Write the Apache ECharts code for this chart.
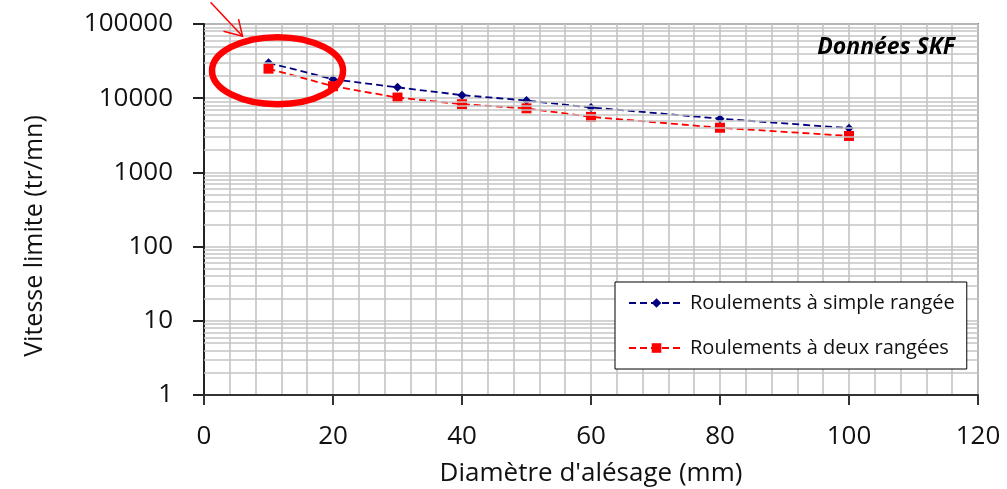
<!DOCTYPE html>
<html>
<head>
<meta charset="utf-8">
<script src="https://cdn.jsdelivr.net/npm/echarts@6/dist/echarts.min.js"></script>
<style>
html,body{margin:0;padding:0;background:#fff;}
#c{width:1007px;height:489px;}
</style>
</head>
<body>
<div id="c"></div>
<script>
// ---- data ----
const diameters = [10, 20, 30, 40, 50, 60, 80, 100];
const simpleRow = [30000, 18000, 14000, 11000, 9300, 7500, 5300, 3950];
const doubleRow = [25000, 14500, 10200, 8300, 7300, 5600, 4000, 3100];
const seriesNames = ['Roulements à simple rangée', 'Roulements à deux rangées'];
const xTicks = [0, 20, 40, 60, 80, 100, 120];
const yTicks = [1, 10, 100, 1000, 10000, 100000];
const xTitle = "Diamètre d'alésage (mm)";
const yTitle = 'Vitesse limite (tr/mn)';
const sourceNote = 'Données SKF';
// annotation anchor (data coords of the circled region)
const highlightCenter = [11.4, 23500];

// minor log grid values 2..9 per decade
const minorLog = [];
yTicks.slice(0, -1).forEach(d => { for (let k = 2; k <= 9; k++) minorLog.push(d * k); });

const FONT = '"Open Sans", Lato, sans-serif';
const chart = echarts.init(document.getElementById('c'), null, {renderer: 'canvas'});

const option = {
  animation: false,
  backgroundColor: '#fff',
  title: {
    text: sourceNote, right: 52, top: 36, padding: 0,
    textStyle: {fontFamily: FONT, fontSize: 23, fontWeight: 'bold', fontStyle: 'italic', color: '#000'}
  },
  grid: {
    left: 204, top: 24, right: 29, bottom: 94,
    outerBoundsMode: 'none', containLabel: false,
    show: true, borderColor: '#8a8a8a', borderWidth: 2, backgroundColor: '#fff'
  },
  legend: {
    data: seriesNames,
    orient: 'vertical',
    left: 615, top: 282,
    backgroundColor: '#fff',
    borderColor: '#000', borderWidth: 1, borderRadius: 0,
    padding: [11, 12, 11, 13],
    itemWidth: 55, itemHeight: 12, itemGap: 25,
    textStyle: {fontFamily: FONT, fontSize: 20, color: '#111', lineHeight: 20, padding: [0, 0, 0, 1]},
    z: 20
  },
  xAxis: {
    type: 'value',
    min: xTicks[0], max: xTicks[xTicks.length - 1], interval: xTicks[1] - xTicks[0],
    name: xTitle, nameLocation: 'middle', nameGap: 66,
    nameTextStyle: {fontFamily: FONT, fontSize: 26, color: '#111'},
    axisLine: {show: true, onZero: false, lineStyle: {color: '#333', width: 2}},
    axisTick: {show: true, length: 10, lineStyle: {color: '#333', width: 2}},
    axisLabel: {fontFamily: FONT, fontSize: 26, color: '#111', margin: 29},
    splitLine: {show: true, lineStyle: {color: '#c4c4c4', width: 1.6}},
    minorTick: {show: false, splitNumber: 5},
    minorSplitLine: {show: true, lineStyle: {color: '#c4c4c4', width: 1.6}}
  },
  yAxis: {
    type: 'log', logBase: 10,
    min: yTicks[0], max: yTicks[yTicks.length - 1],
    axisLine: {show: true, lineStyle: {color: '#222', width: 2}},
    axisTick: {show: true, length: 11, lineStyle: {color: '#222', width: 2}},
    axisLabel: {fontFamily: FONT, fontSize: 26, color: '#111', margin: 31, padding: [8, 0, 0, 0],
      formatter: v => String(Math.round(v))},
    splitLine: {show: true, lineStyle: {color: '#c4c4c4', width: 1.6}}
  },
  series: [
    {
      name: 'grid-minor', type: 'line', data: [], silent: true, z: 1,
      markLine: {
        silent: true, symbol: 'none', label: {show: false}, animation: false,
        lineStyle: {color: '#c4c4c4', width: 1.6, type: 'solid'},
        emphasis: {disabled: true},
        data: minorLog.map(v => ({yAxis: v}))
      }
    },
    {
      name: seriesNames[0], type: 'line', z: 3,
      data: diameters.map((d, i) => [d, simpleRow[i]]),
      symbol: 'diamond', symbolSize: 9,
      itemStyle: {color: '#000080'},
      lineStyle: {color: '#000080', width: 1.8, type: [7, 4]}
    },
    {
      name: seriesNames[1], type: 'line', z: 4,
      data: diameters.map((d, i) => [d, doubleRow[i]]),
      symbol: 'rect', symbolSize: 10,
      itemStyle: {color: '#ff0000'},
      lineStyle: {color: '#ff0000', width: 1.8, type: [7, 4]}
    }
  ]
};
chart.setOption(option);

// annotation: ellipse around the first points + arrow pointing to it; y-axis title
const c = chart.convertToPixel({gridIndex: 0}, highlightCenter);
const rx = 65.5, ry = 33.5;
const tip = [c[0] - 35, c[1] - 34.5];
chart.setOption({
  graphic: [
    {type: 'text', z: 10, x: 35, y: 236, rotation: Math.PI / 2,
      style: {text: yTitle, fontFamily: FONT, fontSize: 25, fill: '#111', align: 'center', verticalAlign: 'middle'}},
    {type: 'ellipse', z: 50, shape: {cx: c[0], cy: c[1], rx: rx, ry: ry},
      style: {fill: 'none', stroke: '#ff0000', lineWidth: 6.5}},
    {type: 'line', z: 50, shape: {x1: tip[0] - 32, y1: tip[1] - 34, x2: tip[0], y2: tip[1]},
      style: {stroke: '#ff0000', lineWidth: 1.5}},
    {type: 'polyline', z: 50, shape: {points: [[tip[0] - 4, tip[1] - 17], tip, [tip[0] - 19, tip[1] - 5]]},
      style: {fill: 'none', stroke: '#ff0000', lineWidth: 1.5}}
  ]
});
</script>
</body>
</html>
